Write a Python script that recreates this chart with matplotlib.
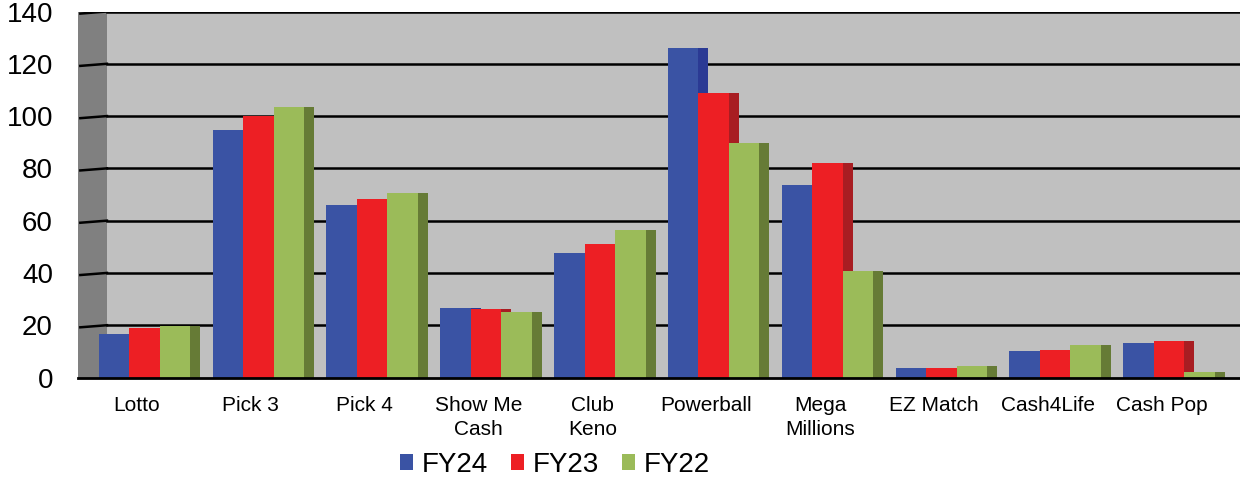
import numpy as np
import matplotlib
matplotlib.use("Agg")
import matplotlib.pyplot as plt
import matplotlib.transforms as mtransforms
from matplotlib.patches import Rectangle

plt.rcParams['font.family'] = ['Liberation Sans', 'DejaVu Sans']

games = ["Lotto", "Pick 3", "Pick 4", "Show Me\nCash", "Club\nKeno", "Powerball",
         "Mega\nMillions", "EZ Match", "Cash4Life", "Cash Pop"]
fy24 = [16.6, 94.8, 65.9, 26.5, 47.6, 125.9, 73.6, 3.6, 10.3, 13.1]
fy23 = [18.8, 100.2, 68.3, 26.2, 51.0, 108.7, 82.0, 3.6, 10.5, 13.8]
fy22 = [19.7, 103.4, 70.5, 25.2, 56.5, 89.6, 40.6, 4.4, 12.4, 2.1]
series = ["FY24", "FY23", "FY22"]
yticks = [0, 20, 40, 60, 80, 100, 120, 140]

fronts = ["#3a53a4", "#ed1f24", "#9bbb59"]
sides = ["#2b3a94", "#a81d22", "#667b36"]

W, H = 1240, 479
fig = plt.figure(figsize=(W / 100, H / 100), dpi=100)
ax = fig.add_axes([78 / W, 101.5 / H, 1162 / W, 366 / H])
ax.set_facecolor("#c0c0c0")

x = np.arange(len(games))
bw = 0.268
depth = 0.088
offs = [-0.202, 0.066, 0.334]

ax.set_xlim(-0.518, 9.69)
ax.set_ylim(0, 140)

# left wall + grid
wall = 29 / 1162
ax.add_patch(Rectangle((0, 0), wall, 1, transform=ax.transAxes,
                       facecolor="#808080", edgecolor="none", zorder=0.5))
trans = mtransforms.blended_transform_factory(ax.transAxes, ax.transData)
for v in yticks[1:]:
    ax.plot([wall, 1], [v, v], color="black", lw=1.8, transform=trans, zorder=1)
    ax.plot([0.002, wall], [v - 0.8, v], color="black", lw=1.8, transform=trans, zorder=1)

# bars with a darker side face
vals = [fy24, fy23, fy22]
for k in range(3):
    ax.bar(x + offs[k] + bw / 2 + depth / 2, vals[k], width=depth,
           color=sides[k], zorder=2 + k)
    ax.bar(x + offs[k], vals[k], width=bw, color=fronts[k], zorder=2.5 + k,
           label=series[k])

for s in ["top", "right", "left"]:
    ax.spines[s].set_visible(False)
ax.spines["bottom"].set_linewidth(2)
ax.spines["bottom"].set_zorder(10)

ax.set_yticks(yticks)
ax.set_yticklabels([str(v) for v in yticks], fontsize=20)
ax.tick_params(axis="y", length=0, pad=18)
ax.set_xticks(x)
ax.set_xticklabels(games, fontsize=15, linespacing=1.35)
ax.tick_params(axis="x", length=0, pad=13)

fig.legend(loc="center", bbox_to_anchor=(555 / W, 14 / H), ncol=3, frameon=False,
           fontsize=20, handlelength=0.47, handleheight=0.47, handletextpad=0.32,
           columnspacing=0.83, borderpad=0)

fig.savefig("out.png", dpi=100)
